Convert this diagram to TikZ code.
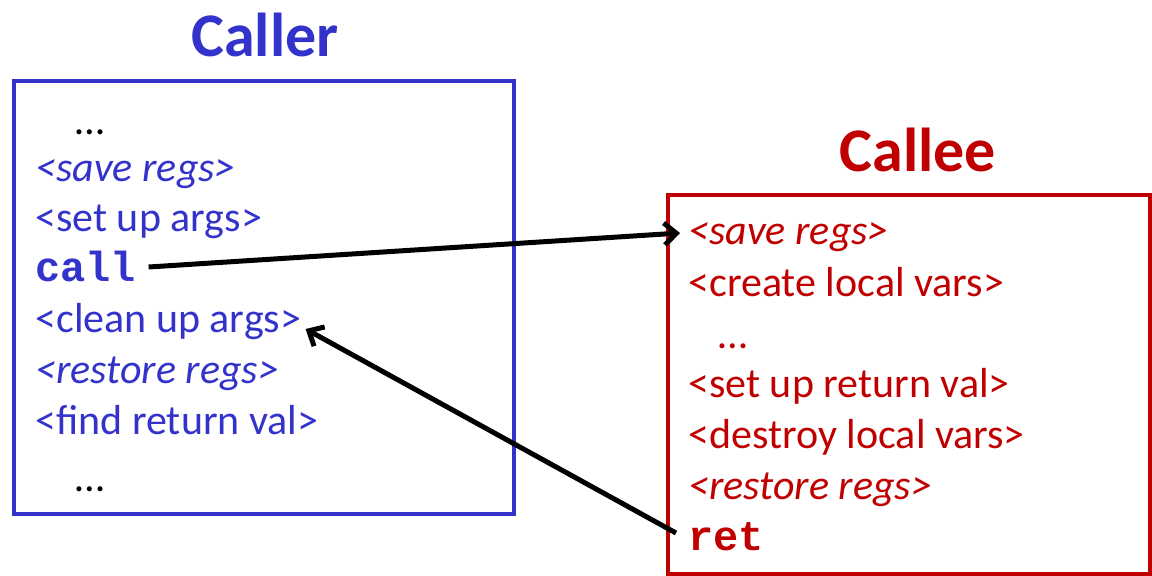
\documentclass[tikz,border=0pt]{standalone}
\usepackage{fontspec}
\setmainfont{Carlito}
\setmonofont{Liberation Mono}
\usetikzlibrary{arrows.meta}
\definecolor{callerblue}{RGB}{51,51,204}
\definecolor{calleered}{RGB}{192,0,0}

\begin{document}
\begin{tikzpicture}
            [x=0.5pt, y=-0.5pt, >={Straight Barb[length=6pt,width=11pt,line width=2.5pt]},
             line/.style={anchor=west, inner sep=0pt, text height=15pt, text depth=4pt, font=\fontsize{21}{25}\selectfont},
             title/.style={font=\fontsize{31}{36}\selectfont\bfseries},
             jump/.style={->, line width=2.5pt, black}]
            \useasboundingbox (0, 0) rectangle (1152, 575);

            % caller side
            \node[title, text=callerblue] (callertitle) at (265, 35) {Caller};
            \draw[callerblue, line width=2pt] (14, 81) rectangle (514, 514);
            \node[line, text=black] (r1) at (75, 123) {\dots};
            \node[line, text=callerblue] (r2) at (35, 170) {\itshape <save regs>};
            \node[line, text=callerblue] (r3) at (35, 220) {<set up args>};
            \node[line, text=callerblue] (call) at (35, 270) {\ttfamily\bfseries call};
            \node[line, text=callerblue] (cleanup) at (35, 321) {<clean up args>};
            \node[line, text=callerblue] (r6) at (35, 372) {\itshape <restore regs>};
            \node[line, text=callerblue] (r7) at (35, 423) {<find return val>};
            \node[line, text=black] (r8) at (75, 480) {\dots};

            % callee side
            \node[title, text=calleered] (calleetitle) at (918, 150) {Callee};
            \draw[calleered, line width=2pt] (668, 195) rectangle (1150, 574);
            \node[line, text=calleered] (save) at (688, 233) {\itshape <save regs>};
            \node[line, text=calleered] (e2) at (688, 285) {<create local vars>};
            \node[line, text=calleered] (e3) at (718, 337) {\dots};
            \node[line, text=calleered] (e4) at (688, 386) {<set up return val>};
            \node[line, text=calleered] (e5) at (688, 437) {<destroy local vars>};
            \node[line, text=calleered] (e6) at (688, 488) {\itshape <restore regs>};
            \node[line, text=calleered] (ret) at (688, 539) {\ttfamily\bfseries ret};

            \path [jump] (call.east) ++(12, -3) coordinate (callfrom) edge ([xshift=-4pt]save.west);
            \path [jump] (ret.west) ++(-12, -6) coordinate (retfrom) edge ([xshift=2pt, yshift=-4pt]cleanup.east);
        \end{tikzpicture}
\end{document}
